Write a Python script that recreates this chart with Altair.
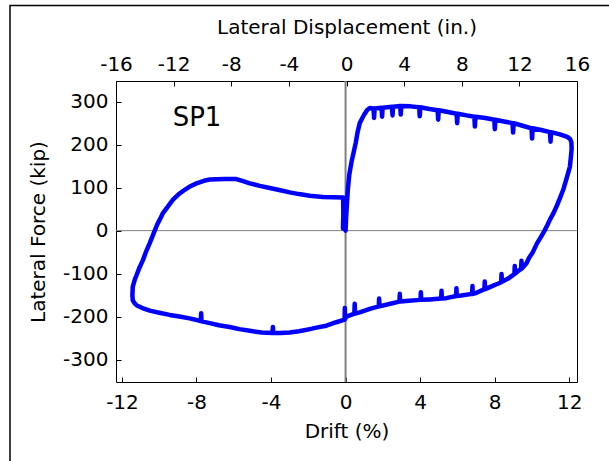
import altair as alt
import pandas as pd

# ---- data (drift %, lateral force kip), in loading order ----
drift = [
    0.0, 0.03, 0.07, 0.12, 0.2, 0.32, 0.45, 0.55, 0.65, 0.76, 0.9, 1.03, 1.15, 1.3,
    1.5, 1.53, 1.56, 1.93, 1.96, 1.99, 2.49, 2.52, 2.55, 2.93, 2.96, 2.99, 3.5,
    3.95, 3.98, 4.01, 4.5, 4.94, 4.97, 5.0, 5.5, 5.96, 5.99, 6.02, 6.5, 6.91, 6.94, 6.97,
    7.5, 7.98, 8.01, 8.04, 8.5, 8.96, 8.99, 9.02, 9.5, 9.98, 10.01, 10.04, 10.5,
    10.97, 11.0, 11.03, 11.5, 11.9, 12.05, 12.12, 12.13,
    12.1, 12.04, 11.85, 11.68, 11.5, 11.32, 11.15, 10.96, 10.82, 10.68, 10.48, 10.28,
    10.05, 9.85, 9.71, 9.5, 9.46, 9.44, 9.42, 9.35, 9.15, 9.1, 9.08, 9.06, 8.7,
    8.39, 8.37, 8.35, 8.2, 7.92, 7.65, 7.49, 7.47, 7.45, 7.0, 6.83, 6.81, 6.79, 6.2,
    5.97, 5.95, 5.93, 5.4, 5.17, 5.15, 5.13, 4.5, 4.06, 4.04, 4.02, 3.4, 2.93, 2.91,
    2.89, 2.4, 1.82, 1.8, 1.78, 1.3, 0.76, 0.51, 0.49, 0.47, 0.05, -0.03, -0.04, -0.05,
    -0.5, -1.03, -1.5, -1.92, -2.5, -3.0, -3.5, -3.88, -3.9, -3.92, -4.5, -5.14,
    -5.7, -6.22, -6.8, -7.29, -7.73, -7.75, -7.77, -8.37, -9.0, -9.44, -10.0, -10.51,
    -10.9, -11.2, -11.32, -11.42, -11.44, -11.42, -11.3, -11.23, -11.05, -10.87, -10.7,
    -10.51, -10.38, -10.24, -10.1, -9.98, -9.8, -9.5, -9.26, -8.95, -8.63, -8.3, -8.0,
    -7.6, -7.29, -6.5, -5.86, -5.5, -5.14, -4.6, -4.07, -3.5, -3.0, -2.5, -1.92, -1.21,
    -0.13, -0.12, -0.14,
]
force = [
    0, 30, 60, 95, 130, 160, 185, 205, 230, 250, 262, 272, 280, 285,
    284, 262, 284, 286, 265, 286, 288, 268, 288, 290, 270, 290, 289,
    287, 266, 287, 283, 280, 258, 280, 276, 272, 250, 272, 268, 265, 242, 265,
    262, 258, 236, 258, 254, 250, 228, 250, 244, 238, 214, 238, 234,
    229, 207, 229, 224, 218, 213, 205, 190,
    175, 149, 120, 95, 75, 56, 40, 25, 12, 0, -15, -29,
    -50, -63, -76, -86, -88, -70, -89, -91, -98, -100, -82, -101, -112,
    -119, -101, -120, -123, -128, -133, -136, -118, -136, -145, -147, -129, -147, -151,
    -152, -134, -152, -157, -158, -140, -158, -160, -161, -143, -161, -163, -165, -147,
    -165, -170, -176, -158, -176, -182, -190, -193, -170, -193, -200, -206, -180, -207,
    -213, -221, -225, -229, -234, -237, -238, -238, -224, -238, -237, -233,
    -229, -224, -220, -215, -211, -192, -210, -204, -199, -196, -191, -186,
    -180, -174, -169, -162, -150, -130, -112, -105, -85, -68, -48,
    -29, -15, 0, 15, 25, 41, 58, 72, 85, 95, 104, 110,
    116, 119, 120, 120, 115, 110, 104, 99, 94, 89, 85, 81, 78,
    77, 40, 5,
]

drift_ticks = [-12, -8, -4, 0, 4, 8, 12]
disp_ticks = [-16, -12, -8, -4, 0, 4, 8, 12, 16]
force_ticks = [-300, -200, -100, 0, 100, 200, 300]

label_text = ["SP1"]
label_drift = [-9.28]
label_force = [243]

df = pd.DataFrame({"drift": drift, "force": force, "step": list(range(len(drift)))})
zero_df = pd.DataFrame({"v": [0]})
disp_df = pd.DataFrame({"disp": disp_ticks})
lab_df = pd.DataFrame({"t": label_text, "d": label_drift, "f": label_force})

FONT = "DejaVu Sans"
LBL = "'' + datum.value"
xs = alt.Scale(domain=[-12.32, 12.42], nice=False, zero=False)
ys = alt.Scale(domain=[-352, 348], nice=False, zero=False)

x_axis = alt.Axis(values=drift_ticks, title="Drift (%)", orient="bottom", offset=-5,
                  tickSize=5, labelPadding=10.5, titlePadding=9, labelFlush=False,
                  labelExpr=LBL)
y_axis = alt.Axis(values=force_ticks, title="Lateral Force (kip)", orient="left", offset=-5,
                  tickSize=5, labelPadding=8, titlePadding=14, labelFlush=False,
                  labelExpr=LBL)

vrule = alt.Chart(zero_df).mark_rule(color="#808080", strokeWidth=2).encode(
    x=alt.X("v:Q", scale=xs, axis=x_axis)
)
hrule = alt.Chart(zero_df).mark_rule(color="#808080", strokeWidth=1).encode(
    y=alt.Y("v:Q", scale=ys, axis=y_axis)
)
line = alt.Chart(df).mark_line(color="#0000FF", strokeWidth=4.5, strokeJoin="round",
                               strokeCap="round").encode(
    x=alt.X("drift:Q", scale=xs, axis=x_axis),
    y=alt.Y("force:Q", scale=ys, axis=y_axis),
    order="step:Q",
)
txt = alt.Chart(lab_df).mark_text(font=FONT, fontSize=26, align="left",
                                  baseline="alphabetic", color="black").encode(
    x=alt.X("d:Q", scale=xs, axis=x_axis),
    y=alt.Y("f:Q", scale=ys, axis=y_axis),
    text="t:N",
)
frame = alt.Chart(alt.Data(values=[{}])).mark_rect(
    filled=False, stroke="black", strokeWidth=1.5
).encode(
    x=alt.value(-106), x2=alt.value(800), y=alt.value(-75.5), y2=alt.value(700)
)

main = alt.layer(vrule, hrule, line, txt, frame)

top = alt.Chart(disp_df).mark_point(opacity=0).encode(
    x=alt.X("disp:Q", scale=alt.Scale(domain=[-16, 16], nice=False, zero=False),
            axis=alt.Axis(orient="top", values=disp_ticks, title="Lateral Displacement (in.)",
                          offset=-5, tickSize=5, labelPadding=7, titlePadding=17,
                          labelFlush=False, labelExpr=LBL))
)

chart = alt.layer(main, top).resolve_scale(x="independent").properties(
    width=461, height=301,
    autosize=alt.AutoSizeParams(type="none"),
    padding={"left": 116, "top": 81, "right": 32, "bottom": 79},
).configure_view(stroke="black", strokeWidth=1).configure_axis(
    labelFont=FONT, titleFont=FONT, labelFontSize=20, titleFontSize=20,
    labelColor="black", titleColor="black", tickColor="black", tickWidth=1,
    titleFontWeight="normal", grid=False, domain=False,
)

chart.save("out.html", embed_options={"renderer": "svg", "actions": False})
